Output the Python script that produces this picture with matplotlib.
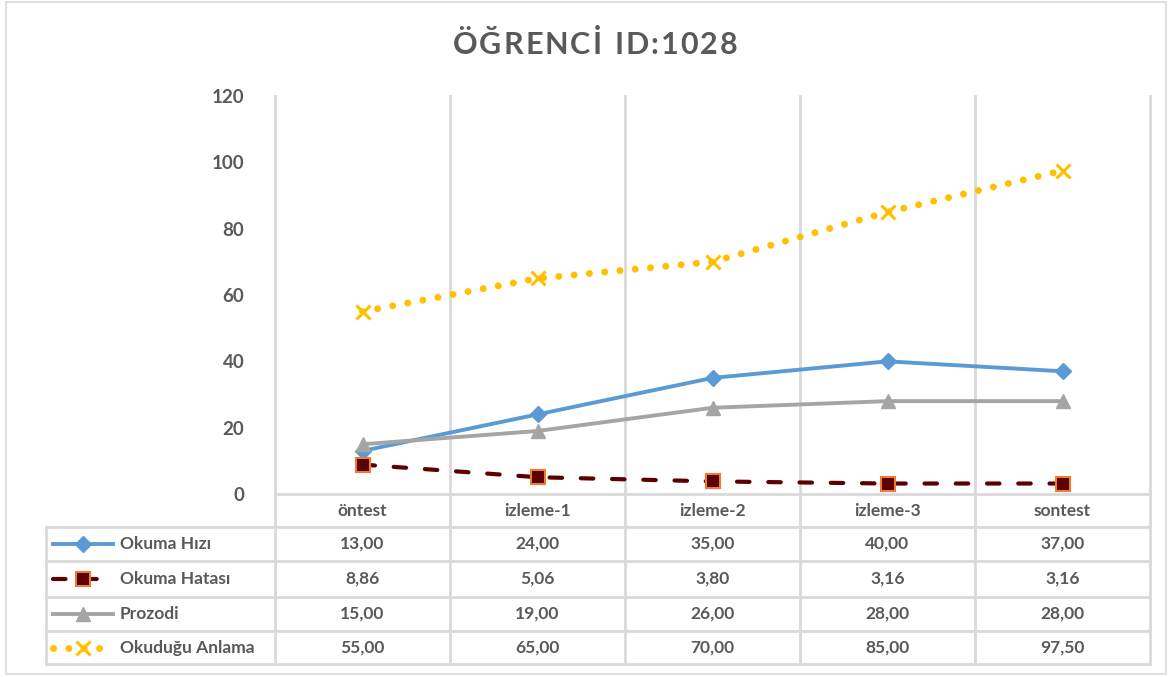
import matplotlib
matplotlib.use("Agg")
import matplotlib.pyplot as plt
from matplotlib.lines import Line2D
from matplotlib.patches import Rectangle

categories = ["öntest", "izleme-1", "izleme-2", "izleme-3", "sontest"]
okuma_hizi = [13.00, 24.00, 35.00, 40.00, 37.00]
okuma_hatasi = [8.86, 5.06, 3.80, 3.16, 3.16]
prozodi = [15.00, 19.00, 26.00, 28.00, 28.00]
okudugu_anlama = [55.00, 65.00, 70.00, 85.00, 97.50]
series_names = ["Okuma Hızı", "Okuma Hatası", "Prozodi", "Okuduğu Anlama"]
yticks = [0, 20, 40, 60, 80, 100, 120]
title = "ÖĞRENCİ  ID:1028"

W, H = 1172, 677
FONT = "Lato"
TXT = "#595959"
GRID = "#d9d9d9"

fig = plt.figure(figsize=(W / 100, H / 100), dpi=100)

# overlay axes in pixel coordinates
ov = fig.add_axes([0, 0, 1, 1])
ov.set_xlim(0, W)
ov.set_ylim(H, 0)
ov.axis("off")

# plot area
x0, x1 = 275, 1150
ytop, ybot = 96, 494
ax = fig.add_axes([x0 / W, 1 - ybot / H, (x1 - x0) / W, (ybot - ytop) / H])
ax.set_xlim(-0.5, len(categories) - 0.5)
ax.set_ylim(0, 120)
ax.set_yticks(yticks)
ax.set_yticklabels([str(t) for t in yticks], fontfamily=FONT, fontweight="bold",
                   fontsize=13.5, color=TXT)
ax.tick_params(axis="y", length=0, pad=22)
ax.set_xticks([])
for s in ax.spines.values():
    s.set_visible(False)
ax.patch.set_alpha(0)

styles = [
    dict(color="#5B9BD5", lw=2.8, ls="-", marker="D", ms=8, mfc="#5B9BD5", mec="#5B9BD5"),
    dict(color="#5C0000", lw=3.0, ls=(0, (3, 4.5)), dash_capstyle="round", marker="s", ms=10,
         mfc="#5C0000", mec="#ED7D31", mew=1.5),
    dict(color="#A5A5A5", lw=2.8, ls="-", marker="^", ms=9.5, mfc="#A5A5A5", mec="#A5A5A5"),
    dict(color="#FFC000", lw=5.0, ls=(0, (0.01, 2.2)), dash_capstyle="round", marker="x", ms=10,
         mew=2.2, mfc="#FFC000", mec="#FFC000"),
]
data = [okuma_hizi, okuma_hatasi, prozodi, okudugu_anlama]
xs = list(range(len(categories)))
for vals, st in zip(data, styles):
    ax.plot(xs, vals, clip_on=False, zorder=3, **st)

# title with letter spacing
fig.canvas.draw()
renderer = fig.canvas.get_renderer()
tprops = dict(fontfamily=FONT, fontweight="bold", fontsize=22, color=TXT)
spacing = 2.0
widths = []
for ch in title:
    t = ov.text(0, 0, ch if ch != " " else "n", **tprops)
    bb = t.get_window_extent(renderer)
    widths.append(bb.width * (0.2 if ch == " " else 1.0))
    t.remove()
total = sum(widths) + spacing * (len(title) - 1)
cx = W / 2 + 9 - total / 2
for ch, w in zip(title, widths):
    if ch != " ":
        ov.text(cx, 45, ch, ha="left", va="center", **tprops)
    cx += w + spacing

# grid / table lines
cw = (x1 - x0) / len(categories)
bounds = [x0 + i * cw for i in range(len(categories) + 1)]
row_lines = [527, 561, 597, 631, 664]
tl = 46
LW = 2.0
for b in bounds:
    ov.plot([b, b], [ytop, row_lines[-1]], color=GRID, lw=LW, zorder=1)
ov.plot([x0, x1], [ybot, ybot], color=GRID, lw=LW, zorder=1)
for r in row_lines:
    ov.plot([tl, x1], [r, r], color=GRID, lw=LW, zorder=1)
ov.plot([tl, tl], [row_lines[0], row_lines[-1]], color=GRID, lw=LW, zorder=1)

tfs = 12.5
# header
for i, c in enumerate(categories):
    ov.text(x0 + (i + 0.5) * cw, (ybot + row_lines[0]) / 2, c, ha="center", va="center",
            fontfamily=FONT, fontweight="bold", fontsize=tfs, color=TXT)

# rows
for ri, (name, vals, st) in enumerate(zip(series_names, data, styles)):
    yc = (row_lines[ri] + row_lines[ri + 1]) / 2
    ov.add_line(Line2D([53, 83, 113], [yc, yc, yc], markevery=[1], **st))
    ov.text(120, yc, name, ha="left", va="center", fontfamily=FONT, fontweight="bold",
            fontsize=tfs, color=TXT)
    for i, v in enumerate(vals):
        ov.text(x0 + (i + 0.5) * cw, yc, f"{v:.2f}".replace(".", ","), ha="center", va="center",
                fontfamily=FONT, fontweight="bold", fontsize=tfs, color=TXT)

# outer border
ov.add_patch(Rectangle((6, 2), 1160, 672, fill=False, ec="#d9d9d9", lw=1.2))

fig.savefig("out.png", dpi=100)
